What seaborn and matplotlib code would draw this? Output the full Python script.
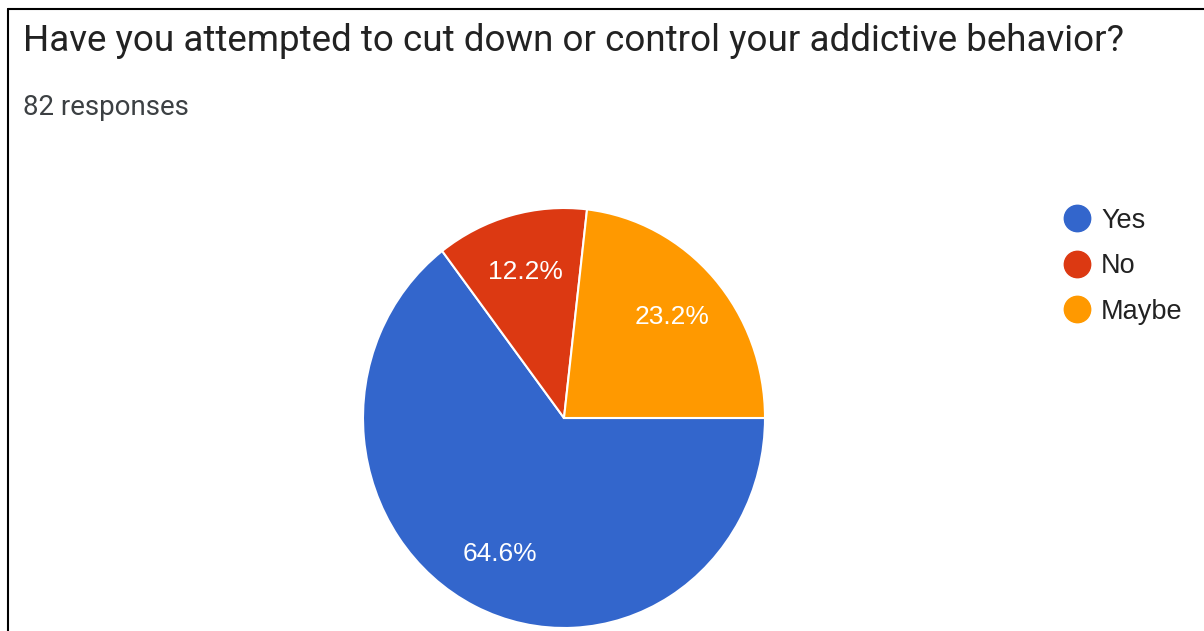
import numpy as np
import matplotlib
matplotlib.use('Agg')
import matplotlib.pyplot as plt
from matplotlib.lines import Line2D
import seaborn as sns

# Données du graphique
labels = ['Yes', 'No', 'Maybe']
counts = [53, 10, 19]
colors = ['#3366cc', '#dc3912', '#ff9900']
title = 'Have you attempted to cut down or control your addictive behavior?'
subtitle = '82 responses'

sns.set_theme(style='white')
plt.rcParams['font.family'] = ['Liberation Sans', 'DejaVu Sans']

W, H = 1204, 631
fig = plt.figure(figsize=(W / 100, H / 100), dpi=100)
fig.patch.set_facecolor('white')

# Camembert
ax = fig.add_axes([363 / W, 3 / H, 402 / W, 420 / H])
wedges, texts, autotexts = ax.pie(
    counts, colors=colors, startangle=0, counterclock=False,
    autopct='%.1f%%', pctdistance=0.72,
    wedgeprops=dict(edgecolor='white', linewidth=1.5),
    textprops=dict(color='white', fontsize=19),
)
ax.set_xlim(-1, 1)
ax.set_ylim(-1, 1)
ax.set_aspect('auto')
ax.axis('off')

# Titre et sous-titre
fig.text(23 / W, 1 - 51 / H, title, fontsize=26.5, color='#222222',
         family=['Roboto', 'DejaVu Sans'], va='baseline', ha='left')
fig.text(23 / W, 1 - 115 / H, subtitle, fontsize=20, color='#3c4043',
         family=['Roboto', 'DejaVu Sans'], va='baseline', ha='left')

# Légende
handles = [Line2D([], [], marker='o', linestyle='', markersize=19,
                  markerfacecolor=c, markeredgecolor=c) for c in colors]
fig.legend(handles, labels, loc='upper left',
           bbox_to_anchor=(1047 / W, 1 - 194 / H), frameon=False,
           fontsize=19.5, labelspacing=0.72, handletextpad=0.3,
           borderpad=0, handlelength=1.2, labelcolor='#222222')

# Cadre (bord gauche et haut)
fig.add_artist(Line2D([8 / W, 8 / W], [0, 1 - 9 / H], color='black',
                      linewidth=1.5, transform=fig.transFigure))
fig.add_artist(Line2D([8 / W, 1], [1 - 9 / H, 1 - 9 / H], color='black',
                      linewidth=1.5, transform=fig.transFigure))

fig.savefig('out.png', dpi=100)
